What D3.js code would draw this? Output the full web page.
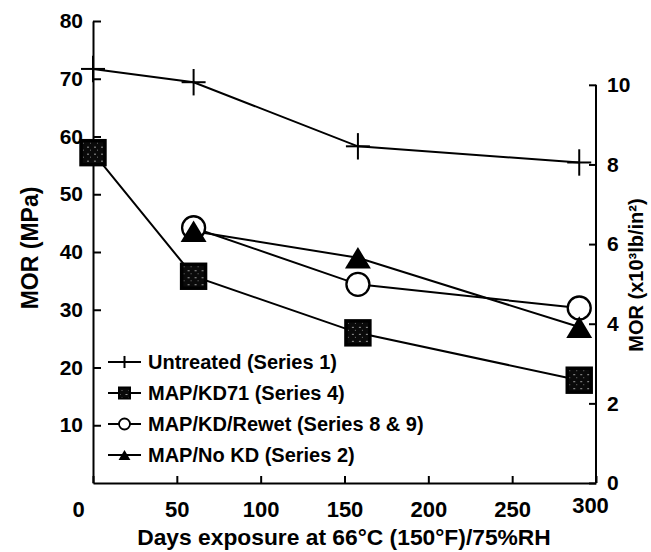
<!DOCTYPE html>
<html>
<head>
<meta charset="utf-8">
<script src="https://cdn.jsdelivr.net/npm/d3@7"></script>
<style>
  html, body { margin: 0; padding: 0; background: #fff; }
  svg { display: block; }
  text { font-family: "Liberation Sans", Arial, Helvetica, sans-serif; font-weight: bold; fill: #000; }
</style>
</head>
<body>
<svg id="chart" width="651" height="552"></svg>
<script>
// ---- data ----
const days       = [0, 60, 158, 290];
const untreated  = [71.7, 69.4, 58.3, 55.5];   // Series 1
const kd71       = [57.2, 35.8, 26.0, 17.8];   // Series 4
const rewet      = [null, 44.2, 34.4, 30.3];   // Series 8 & 9
const noKd       = [null, 43.6, 39.0, 27.0];   // Series 2

const xTicks      = [0, 50, 100, 150, 200, 250, 300];
const yTicks      = [10, 20, 30, 40, 50, 60, 70, 80];
const yRightTicks = [0, 2, 4, 6, 8, 10];
const MPA_PER_KSI = 6.895;

const legendLabels = [
  'Untreated (Series 1)',
  'MAP/KD71 (Series 4)',
  'MAP/KD/Rewet (Series 8 & 9)',
  'MAP/No KD (Series 2)'
];

// ---- layout ----
const svg = d3.select('#chart');
const x = d3.scaleLinear().domain([0, 300]).range([93, 596]);
const y = d3.scaleLinear().domain([0, 80]).range([483, 21]);
const yR = d3.scaleLinear().domain([0, 80 / MPA_PER_KSI]).range([483, 21]);

// speckled fill for the square markers
const defs = svg.append('defs');
const pat = defs.append('pattern').attr('id', 'speck')
  .attr('patternUnits', 'userSpaceOnUse').attr('width', 7).attr('height', 7);
pat.append('rect').attr('width', 7).attr('height', 7).attr('fill', '#0a0a0a');
pat.append('rect').attr('x', 1).attr('y', 1).attr('width', 2).attr('height', 1).attr('fill', '#999');
pat.append('rect').attr('x', 4).attr('y', 4).attr('width', 1).attr('height', 1).attr('fill', '#777');

// ---- axes ----
const axisStyle = g => {
  g.selectAll('path, line').attr('stroke', '#000').attr('stroke-width', 2);
  g.selectAll('text').attr('font-size', 21).attr('font-family', null);
};

svg.append('g')
  .attr('transform', `translate(0,${y(0)})`)
  .call(d3.axisBottom(x).tickValues(xTicks).tickSizeInner(-7).tickSizeOuter(0).tickPadding(18))
  .call(axisStyle)
  .call(g => g.selectAll('.tick text').attr('font-size', 22)
    .attr('dx', d => d === 0 ? -15 : d === 300 ? -6 : 0)
    .attr('dy', d => d === 300 ? '0.55em' : '0.71em'));

svg.append('g')
  .attr('transform', `translate(${x(0)},0)`)
  .call(d3.axisLeft(y).tickValues(yTicks).tickSizeInner(-8).tickSizeOuter(0).tickPadding(10))
  .call(axisStyle);

svg.append('g')
  .attr('transform', `translate(${x(300)},0)`)
  .call(d3.axisRight(yR).tickValues(yRightTicks).tickSizeInner(-7).tickSizeOuter(0).tickPadding(11))
  .call(axisStyle)
  .call(g => g.select('.domain').remove())
  .call(g => g.append('line')
    .attr('y1', yR(0)).attr('y2', yR(10))
    .attr('stroke', '#000').attr('stroke-width', 2));

// axis titles
svg.append('text')
  .attr('transform', `translate(30,248) rotate(-90)`)
  .attr('text-anchor', 'middle').attr('dy', '0.35em')
  .attr('font-size', 23)
  .text('MOR (MPa)');

svg.append('text')
  .attr('transform', `translate(636,275) rotate(-90)`)
  .attr('text-anchor', 'middle').attr('dy', '0.35em')
  .attr('font-size', 20)
  .text('MOR (x10³lb/in²)');

svg.append('text')
  .attr('x', 344).attr('y', 545)
  .attr('text-anchor', 'middle')
  .attr('font-size', 22.8)
  .text('Days exposure at 66°C (150°F)/75%RH');

// ---- markers ----
function drawMarker(g, kind, s) {
  if (kind === 'cross') {
    g.append('line').attr('x1', -s / 2).attr('x2', s / 2).attr('stroke', '#000').attr('stroke-width', 2);
    g.append('line').attr('y1', -s * 0.55).attr('y2', s * 0.55).attr('stroke', '#000').attr('stroke-width', 2);
  } else if (kind === 'square') {
    g.append('rect').attr('x', -s / 2).attr('y', -s / 2).attr('width', s).attr('height', s)
      .attr('fill', 'url(#speck)').attr('stroke', '#000').attr('stroke-width', Math.max(2, s / 7));
  } else if (kind === 'circle') {
    g.append('circle').attr('r', s / 2).attr('fill', '#fff')
      .attr('stroke', '#000').attr('stroke-width', Math.max(1.8, s / 10));
  } else if (kind === 'triangle') {
    const w = s * 1.08, h = s * 0.9;
    g.append('path').attr('d', `M0,${-h / 2}L${w / 2},${h / 2}L${-w / 2},${h / 2}Z`).attr('fill', '#000');
  }
}

const series = [
  { values: untreated, kind: 'cross',    size: 24 },
  { values: kd71,      kind: 'square',   size: 24 },
  { values: rewet,     kind: 'circle',   size: 23 },
  { values: noKd,      kind: 'triangle', size: 24 }
];

const line = d3.line()
  .defined(d => d.v != null)
  .x(d => x(d.day))
  .y(d => y(d.v));

series.forEach(s => {
  s.pts = days.map((day, i) => ({ day, v: s.values[i] }));
  svg.append('path')
    .datum(s.pts)
    .attr('fill', 'none')
    .attr('stroke', '#000')
    .attr('stroke-width', 2)
    .attr('d', line);
});

series.forEach(s => {
  svg.append('g').selectAll('g')
    .data(s.pts.filter(d => d.v != null))
    .join('g')
    .attr('transform', d => `translate(${x(d.day)},${y(d.v)})`)
    .each(function () { drawMarker(d3.select(this), s.kind, s.size); });
});

// ---- legend ----
const legendRows = [362, 393, 424, 455];
const leg = svg.append('g');
series.forEach((s, i) => {
  const row = leg.append('g').attr('transform', `translate(0,${legendRows[i]})`);
  row.append('line').attr('x1', 108).attr('x2', 141).attr('stroke', '#000').attr('stroke-width', 2);
  const m = row.append('g').attr('transform', 'translate(124.5,0)');
  drawMarker(m, s.kind, 11);
  row.append('text')
    .attr('x', 148).attr('dy', '0.36em')
    .attr('font-size', 20)
    .text(legendLabels[i]);
});
</script>
</body>
</html>
